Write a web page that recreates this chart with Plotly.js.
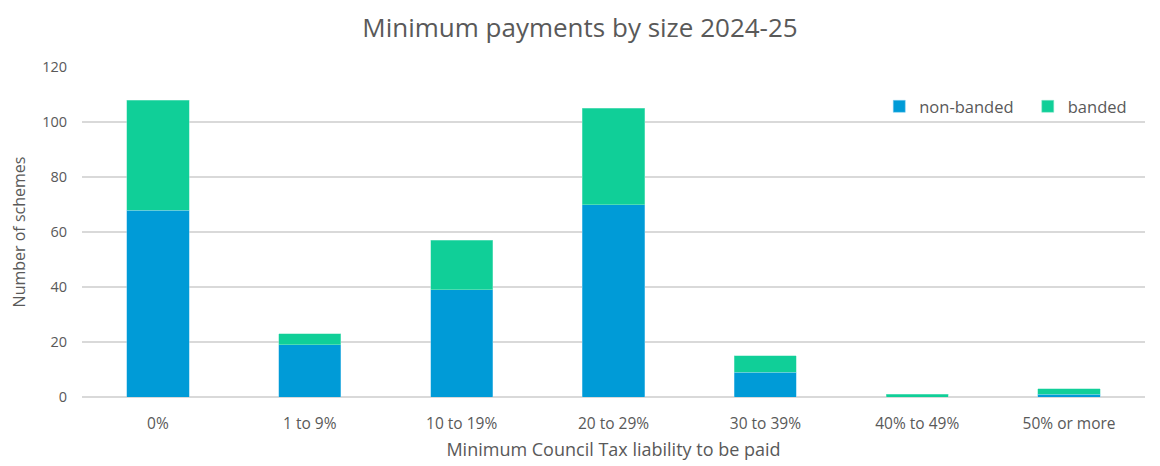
<!DOCTYPE html>
<html>
<head>
<meta charset="utf-8">
<script src="https://cdn.plot.ly/plotly-3.0.1.min.js"></script>
<style>html,body{margin:0;padding:0;background:#fff;}#chart{width:1160px;height:466px;}</style>
</head>
<body>
<div id="chart"></div>
<script>
const categories = ["0%", "1 to 9%", "10 to 19%", "20 to 29%", "30 to 39%", "40% to 49%", "50% or more"];
const nonBanded = [68, 19, 39, 70, 9, 0, 1];
const banded = [40, 4, 18, 35, 6, 1, 2];
const yTicks = [0, 20, 40, 60, 80, 100, 120];

const font = "'Open Sans', Lato, sans-serif";
const grey = "#595959";

const traces = [
  {type: "bar", name: "non-banded", x: categories, y: nonBanded, legend: "legend",
   marker: {color: "#009bd7", line: {color: "#7fcdf0", width: 0.5}}},
  {type: "bar", name: "banded", x: categories, y: banded, legend: "legend2",
   marker: {color: "#10cf98", line: {color: "#88e7cb", width: 0.5}}}
];

const legendBase = {orientation: "h", y: 0.88, xanchor: "left", yanchor: "middle",
  font: {family: font, size: 16.5, color: grey}, bgcolor: "rgba(0,0,0,0)", itemwidth: 30};

const layout = {
  width: 1160, height: 466,
  barmode: "stack", bargap: 0.59,
  paper_bgcolor: "#fff", plot_bgcolor: "#fff",
  margin: {l: 82, r: 15, t: 67, b: 69, autoexpand: false},
  font: {family: font, color: grey},
  title: {text: "Minimum payments by size 2024-25", x: 0.5, xanchor: "center", y: 0.94, yanchor: "middle",
          font: {family: font, size: 26, color: grey}},
  xaxis: {
    title: {text: "Minimum Council Tax liability to be paid", font: {family: font, size: 18, color: grey}, standoff: 10},
    tickfont: {family: font, size: 15.5, color: grey},
    showgrid: false, showline: false, ticks: "", zeroline: false, ticklabelstandoff: 15,
    automargin: false
  },
  yaxis: {
    title: {text: "Number of schemes", font: {family: font, size: 16, color: grey}, standoff: 12},
    range: [0, 120], tickvals: yTicks, ticktext: yTicks.map(String),
    tickfont: {family: font, size: 14.5, color: grey},
    gridcolor: "#d9d9d9", gridwidth: 1.5, zeroline: true, zerolinecolor: "#d9d9d9", zerolinewidth: 1.5,
    showline: false, ticks: "", ticklabelstandoff: 14, automargin: false
  },
  legend: Object.assign({}, legendBase, {x: 0.75}),
  legend2: Object.assign({}, legendBase, {x: 0.8897}),
  showlegend: true
};

Plotly.newPlot("chart", traces, layout, {displayModeBar: false, staticPlot: true});
</script>
</body>
</html>
